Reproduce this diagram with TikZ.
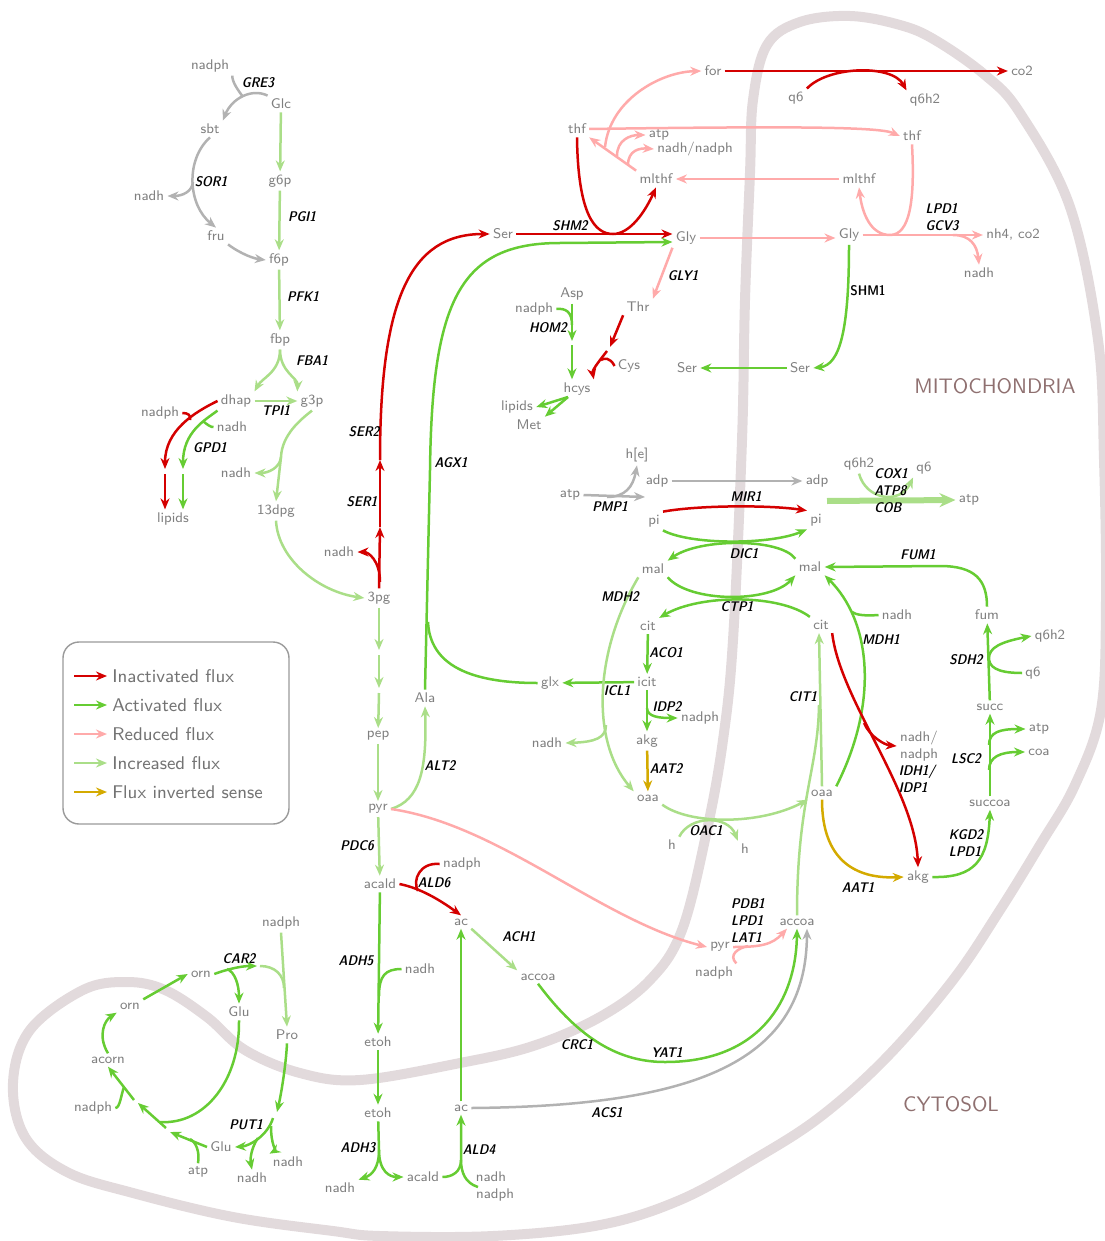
\documentclass[tikz,border=0pt]{standalone}
\usepackage{fontspec}
\usetikzlibrary{arrows.meta}

\definecolor{fluxoff}{RGB}{212,0,0}
\definecolor{fluxon}{RGB}{102,204,51}
\definecolor{fluxlow}{RGB}{255,170,170}
\definecolor{fluxhigh}{RGB}{170,222,136}
\definecolor{fluxrev}{RGB}{212,170,0}
\definecolor{fluxnone}{RGB}{178,178,178}
\definecolor{metgray}{RGB}{128,128,128}
\definecolor{wallcol}{RGB}{226,218,220}
\definecolor{compcol}{RGB}{143,112,112}

\begin{document}
\begin{tikzpicture}[x=0.5pt,y=-0.5pt,
    flux/.style={line width=1.25pt,-{Stealth[length=5.5pt,width=4.5pt]}},
    inactiv/.style={flux,draw=fluxoff},
    activ/.style={flux,draw=fluxon},
    reduc/.style={flux,draw=fluxlow},
    incr/.style={flux,draw=fluxhigh},
    inver/.style={flux,draw=fluxrev},
    neutr/.style={flux,draw=fluxnone},
    met/.style={text=metgray,font=\fontsize{7}{8.5}\selectfont\sffamily,inner sep=1.5pt},
    enz/.style={font=\fontsize{7}{8.5}\selectfont\sffamily\fontseries{sbc}\slshape,align=left,inner sep=0pt},
    legtext/.style={text=metgray!90!black,font=\fontsize{9.2}{10}\selectfont\sffamily,anchor=west,inner sep=0pt},
    comp/.style={text=compcol,font=\fontsize{10.5}{12}\selectfont\sffamily}]
  \useasboundingbox (0,0) rectangle (1104,1241);
  % compartment wall
  \draw[wallcol,line width=5pt] plot[smooth cycle,tension=0.6] coordinates {
    (850,16) (900,25) (935,40) (985,75) (1020,113) (1070,207) (1098,340)
    (1104,460) (1106,600) (1101,710) (1075,785) (1040,845) (1000,910)
    (953,980) (887,1057) (820,1117) (753,1160) (680,1200) (600,1225)
    (493,1236) (380,1236) (333,1231) (233,1217) (133,1193) (67,1172)
    (25,1137) (13,1083) (30,1030) (83,990) (127,982) (165,990) (207,1017)
    (245,1050) (300,1073) (360,1080) (460,1063) (533,1046) (600,1017)
    (650,980) (682,930) (707,830) (723,740) (733,640) (742,440) (745,300)
    (750,173) (753,100) (767,45) (800,22)};
  \node[comp] (lMito) at (995,386) {MITOCHONDRIA};
  \node[comp] (lCyto) at (951,1104) {CYTOSOL};

  % glycolysis and fermentation
  \node[met] (nadphG) at (210,66) {nadph};
  \node[met] (glc) at (281,104) {Glc};
  \node[met] (sbt) at (210,129) {sbt};
  \node[met] (g6p) at (280,181) {g6p};
  \node[met] (nadhS) at (149,196) {nadh};
  \node[met] (fru) at (216,236) {fru};
  \node[met] (f6p) at (279,260) {f6p};
  \node[met] (fbp) at (280,340) {fbp};
  \node[met] (dhap) at (236,401) {dhap};
  \node[met] (g3p) at (312,401) {g3p};
  \node[met] (nadphL) at (160,413) {nadph};
  \node[met] (nadhL) at (232,427) {nadh};
  \node[met] (nadhT) at (236,473) {nadh};
  \node[met] (dpg) at (276,511) {13dpg};
  \node[met] (lipG) at (173,519) {lipids};
  \node[met] (nadhP) at (339,552) {nadh};
  \node[met] (pg3) at (379,598) {3pg};
  \node[met] (pep) at (378,736) {pep};
  \node[met] (ala) at (425,698) {Ala};
  \node[met] (pyr) at (378,809) {pyr};
  \node[met] (acald) at (380,884) {acald};
  \node[met] (nadphA) at (462,864) {nadph};
  \node[met] (ac) at (461,922) {ac};
  \node[met] (accoa) at (538,977) {accoa};
  \node[met] (nadhE) at (420,969) {nadh};
  \node[met] (etoh) at (378,1042) {etoh};
  \node[met] (etohB) at (378,1113) {etoh};
  \node[met] (acB) at (461,1108) {ac};
  \node[met] (nadhH) at (340,1188) {nadh};
  \node[met] (acaldB) at (423,1177) {acald};
  \node[met] (nadhD) at (491,1177) {nadh};
  \node[met] (nadphD) at (495,1195) {nadph};

  % serine, glycine, one-carbon
  \node[met] (ser) at (503,234) {Ser};
  \node[met] (gly) at (686,238) {Gly};
  \node[met] (for) at (713,71) {for};
  \node[met] (co2) at (1022,71) {co2};
  \node[met] (q6F) at (796,98) {q6};
  \node[met] (q6h2F) at (925,100) {q6h2};
  \node[met] (thf) at (577,129) {thf};
  \node[met] (atpF) at (659,135) {atp};
  \node[met] (nadhF) at (695,149) {nadh/nadph};
  \node[met] (thfM) at (912,136) {thf};
  \node[met] (mlthf) at (656,179) {mlthf};
  \node[met] (mlthfM) at (859,179) {mlthf};
  \node[met] (glyM) at (849,235) {Gly};
  \node[met] (nh4) at (1013,235) {nh4, co2};
  \node[met] (nadhG) at (979,273) {nadh};
  \node[met] (asp) at (572,294) {Asp};
  \node[met] (nadphH) at (534,309) {nadph};
  \node[met] (thr) at (638,307) {Thr};
  \node[met] (cys) at (629,366) {Cys};
  \node[met] (serB) at (687,368) {Ser};
  \node[met] (serM) at (800,368) {Ser};
  \node[met] (hcys) at (577,389) {hcys};
  \node[met] (lipH) at (517,407) {lipids};
  \node[met] (methio) at (529,425) {Met};

  % energy and TCA
  \node[met] (hE) at (637,455) {h[e]};
  \node[met] (adp) at (657,481) {adp};
  \node[met] (adpM) at (817,481) {adp};
  \node[met] (atpP) at (570,495) {atp};
  \node[met] (q6h2E) at (859,464) {q6h2};
  \node[met] (q6E) at (924,468) {q6};
  \node[met] (atpE) at (969,500) {atp};
  \node[met] (pi) at (654,521) {pi};
  \node[met] (piM) at (816,520) {pi};
  \node[met] (mal) at (653,569) {mal};
  \node[met] (malM) at (810,567) {mal};
  \node[met] (cit) at (648,626) {cit};
  \node[met] (citM) at (821,625) {cit};
  \node[met] (nadhM) at (897,615) {nadh};
  \node[met] (fum) at (987,615) {fum};
  \node[met] (q6h2S) at (1050,636) {q6h2};
  \node[met] (q6S) at (1033,673) {q6};
  \node[met] (glx) at (550,683) {glx};
  \node[met] (icit) at (647,682) {icit};
  \node[met] (succ) at (990,707) {succ};
  \node[met] (nadphI) at (700,718) {nadph};
  \node[met] (nadhC) at (547,743) {nadh};
  \node[met] (akg) at (647,741) {akg};
  \node[met] (atpS) at (1039,729) {atp};
  \node[met,align=left] (nadhI) at (919,746) {nadh/\\nadph};
  \node[met] (coa) at (1039,752) {coa};
  \node[met] (oaa) at (648,798) {oaa};
  \node[met] (oaaM) at (822,793) {oaa};
  \node[met] (succoa) at (990,803) {succoa};
  \node[met] (hL) at (672,845) {h};
  \node[met] (hR) at (745,849) {h};
  \node[met] (akgM) at (918,877) {akg};
  \node[met] (pyrM) at (720,947) {pyr};
  \node[met] (nadphM) at (714,973) {nadph};
  \node[met] (accoaM) at (797,922) {accoa};

  % arginine and proline
  \node[met] (nadphR) at (281,923) {nadph};
  \node[met] (orn) at (201,974) {orn};
  \node[met] (ornA) at (130,1006) {orn};
  \node[met] (glu) at (239,1012) {Glu};
  \node[met] (pro) at (287,1035) {Pro};
  \node[met] (acorn) at (108,1060) {acorn};
  \node[met] (nadphC) at (93,1108) {nadph};
  \node[met] (gluB) at (221,1147) {Glu};
  \node[met] (atpR) at (198,1172) {atp};
  \node[met] (nadhR) at (252,1178) {nadh};
  \node[met] (nadhQ) at (288,1162) {nadh};

  % junctions and hidden intermediates
  \coordinate (jGRE) at (243,97);
  \coordinate (jSOR) at (193,182);
  \coordinate (jGPDr) at (190,420);
  \coordinate (jGPDg) at (203,421);
  \coordinate (gpR1) at (165,469);
  \coordinate (gpR2) at (165,474);
  \coordinate (gpG1) at (183,469);
  \coordinate (gpG2) at (183,474);
  \coordinate (jG3P) at (281,457);
  \coordinate (pgA) at (379,650);
  \coordinate (pgB) at (379,655);
  \coordinate (pgC) at (379,688);
  \coordinate (pgD) at (379,693);
  \coordinate (serA) at (380,527);
  \coordinate (serC) at (380,460);
  \coordinate (jSER) at (380,582);
  \coordinate (jSHM) at (613,234);
  \coordinate (jAGX) at (428,622);
  \coordinate (jALD) at (418,891);
  \coordinate (jADH) at (379,996);
  \coordinate (jADH3) at (379,1150);
  \coordinate (jALD4) at (461,1160);
  \coordinate (sALD4) at (478,1187);
  \coordinate (jPDB) at (748,946);
  \coordinate (jCIT) at (819,705);
  \coordinate (jMDH) at (852,612);
  \coordinate (jLSa) at (989,745);
  \coordinate (jLSb) at (989,770);
  \coordinate (jIDH) at (864,723);
  \coordinate (jIDP) at (647,708);
  \coordinate (jMDH2) at (606,725);
  \coordinate (pmpEnd) at (645,497);
  \coordinate (jPMP) at (607,497);
  \coordinate (etcS) at (827,501);
  \coordinate (jFor) at (605,147);
  \coordinate (jAtp) at (617,156);
  \coordinate (jNad) at (628,165);
  \coordinate (thrA) at (610,347);
  \coordinate (thrB) at (607,351);
  \coordinate (jCys) at (601,360);
  \coordinate (homA) at (572,341);
  \coordinate (homB) at (572,345);
  \coordinate (jHOM) at (572,325);
  \coordinate (hcysS) at (568,397);
  \coordinate (jGCV) at (890,235);
  \coordinate (jGCVn) at (953,235);
  \coordinate (jORN) at (227,969);
  \coordinate (carE) at (257,966);
  \coordinate (carS) at (260,966);
  \coordinate (jCAR) at (284,988);
  \coordinate (putA) at (277,1112);
  \coordinate (putB) at (273,1118);
  \coordinate (jPUTa) at (258,1138);
  \coordinate (jPUTb) at (271,1126);
  \coordinate (gaA) at (170,1132);
  \coordinate (gaB) at (166,1128);
  \coordinate (gaC) at (138,1103);
  \coordinate (gaD) at (134,1100);
  \coordinate (jAtpR) at (190,1139);
  \coordinate (jGlu) at (160,1122);
  \coordinate (jNadphR) at (124,1087);

  % GRE3, SOR1
  \draw[neutr] (glc.north west) .. controls (252,88) and (232,98) .. (sbt.north east);
  \draw[neutr,-] (nadphG.south east) .. controls (232,82) and (238,90) .. (jGRE);
  \draw[neutr] (sbt.south) .. controls (185,160) and (188,205) .. (fru.north);
  \draw[neutr] (jSOR) .. controls (192,192) and (182,196) .. (nadhS.east);
  \draw[neutr] (fru.south east) .. controls (235,250) and (250,258) .. (f6p.west);
  % upper glycolysis
  \draw[incr] (glc) -- (g6p);
  \draw[incr] (g6p) -- (f6p);
  \draw[incr] (f6p) -- (fbp);
  \draw[incr] (fbp.south) .. controls (280,372) and (262,378) .. (dhap.north east);
  \draw[incr] (fbp.south) .. controls (280,372) and (298,378) .. (g3p.north west);
  \draw[incr] (dhap) -- (g3p);
  % GPD1
  \draw[inactiv] (dhap.west) .. controls (195,412) and (165,430) .. (gpR1);
  \draw[inactiv] (gpR2) -- ([xshift=-4pt]lipG.north);
  \draw[inactiv,-] (nadphL.east) .. controls (188,413) and (191,415) .. (jGPDr);
  \draw[activ] (dhap.south west) .. controls (205,420) and (183,432) .. (gpG1);
  \draw[activ] (gpG2) -- ([xshift=5pt]lipG.north);
  \draw[activ,-] (nadhL.west) .. controls (212,428) and (206,424) .. (jGPDg);
  % lower glycolysis
  \draw[incr] (g3p.south) .. controls (300,420) and (282,435) .. (jG3P) -- (dpg.north);
  \draw[incr] (jG3P) .. controls (280,468) and (268,473) .. (nadhT.east);
  \draw[incr] (dpg.south) .. controls (278,560) and (320,592) .. (pg3.west);
  \draw[incr] (pg3) -- (pgA);
  \draw[incr] (pgB) -- (pgC);
  \draw[incr] (pgD) -- (pep);
  \draw[incr] (pep) -- (pyr);
  \draw[incr] (pyr) -- (acald);
  % serine
  \draw[inactiv] (pg3.north) -- (serA);
  \draw[inactiv] (serA) -- (serC);
  \draw[inactiv] (serC) .. controls (380,300) and (410,234) .. (ser.west);
  \draw[inactiv] (jSER) .. controls (380,560) and (368,552) .. (nadhP.east);
  \draw[inactiv] (ser.east) -- ([yshift=2pt]gly.west);
  \draw[inactiv] (thf.south) .. controls (578,215) and (595,234) .. (jSHM)
    .. controls (630,234) and (645,212) .. (mlthf.south);
  % AGX1, ALT2
  \draw[activ] (ala.north) -- (430,470) .. controls (432,300) and (460,243) .. (560,243)
    -- ([yshift=-2pt]gly.west);
  \draw[activ,-] (glx.west) .. controls (470,683) and (430,665) .. (jAGX);
  \draw[incr] (pyr.east) .. controls (420,800) and (427,770) .. (ala.south);
  \draw[reduc] (pyr.east) .. controls (500,825) and (600,920) .. (pyrM.west);
  % fermentation
  \draw[inactiv] (acald.east) .. controls (420,888) and (440,900) .. (ac.north);
  \draw[inactiv,-] (nadphA.west) .. controls (420,862) and (412,880) .. (jALD);
  \draw[incr] (ac.south east) -- (accoa.north west);
  \draw[activ] (accoa.south) .. controls (580,1040) and (620,1062) .. (665,1062)
    .. controls (760,1062) and (796,1000) .. (accoaM.south);
  \draw[activ] (acald) -- (etoh);
  \draw[activ,-] (nadhE.west) .. controls (385,969) and (379,976) .. (jADH);
  \draw[activ] (etoh) -- (etohB);
  \draw[activ,-] (etohB) -- (jADH3);
  \draw[activ] (jADH3) .. controls (379,1168) and (372,1175) .. (nadhH.north east);
  \draw[activ] (jADH3) .. controls (379,1172) and (390,1177) .. (acaldB.west);
  \draw[activ] (acaldB.east) .. controls (452,1177) and (461,1172) .. (jALD4) -- (acB.south);
  \draw[activ,-] (sALD4) .. controls (465,1183) and (461,1172) .. (jALD4);
  \draw[activ] (acB.north) -- (ac.south);
  \draw[neutr] (acB.east) .. controls (700,1106) and (806,1060) .. ([xshift=5pt]accoaM.south);
  \draw[reduc] (pyrM.east) .. controls (760,947) and (772,945) .. ([xshift=-5pt]accoaM.south);
  \draw[reduc,-] (nadphM.north east) .. controls (728,955) and (738,948) .. (jPDB);
  % TCA
  \draw[incr] (oaaM.north) -- ([xshift=-1pt]citM.south);
  \draw[incr,-] (accoaM.north) .. controls (797,800) and (818,770) .. (jCIT);
  \draw[activ] (oaaM.north east) .. controls (880,700) and (870,620) .. (malM.south east);
  \draw[activ,-] (nadhM.west) .. controls (865,616) and (856,615) .. (jMDH);
  \draw[activ] (fum.north) .. controls (987,580) and (975,566) .. (940,566) -- (malM.east);
  \draw[activ] (succ) -- (fum);
  \draw[activ] (q6S.west) .. controls (995,673) and (989,666) .. (989,658)
    .. controls (989,648) and (1000,642) .. (q6h2S.west);
  \draw[activ] (succoa) -- (succ);
  \draw[activ] (jLSa) .. controls (989,732) and (1000,729) .. (atpS.west);
  \draw[activ] (jLSb) .. controls (989,757) and (1000,752) .. (coa.west);
  \draw[activ] (akgM.east) .. controls (975,878) and (988,860) .. (succoa.south);
  \draw[inver] (oaaM.south) .. controls (822,860) and (855,879) .. (akgM.west);
  \draw[inactiv] (citM.south east) .. controls (840,700) and (915,790) .. (akgM.north);
  \draw[inactiv] (jIDH) .. controls (870,737) and (885,745) .. (nadhI.west);
  % carriers
  \draw[inactiv] (pi.north east) .. controls (700,505) and (770,505) .. (piM.north west);
  \draw[activ] (pi.south east) .. controls (690,545) and (770,545) .. (piM.south west);
  \draw[activ] (malM.north west) .. controls (780,538) and (700,538) .. (mal.north east);
  \draw[activ] (mal.south east) .. controls (690,603) and (770,603) .. (malM.south west);
  \draw[activ] (citM.north west) .. controls (780,594) and (700,594) .. (cit.north east);
  % cytosolic TCA side
  \draw[activ] (cit) -- (icit);
  \draw[activ] (icit) -- (glx);
  \draw[activ] (icit) -- (akg);
  \draw[activ] (jIDP) .. controls (647,717) and (660,718) .. (nadphI.west);
  \draw[inver] (akg) -- (oaa);
  \draw[incr] (mal.south west) .. controls (595,650) and (590,740) .. (oaa.north west);
  \draw[incr] (jMDH2) .. controls (606,738) and (595,742) .. (nadhC.east);
  \draw[incr] (oaa.south east) .. controls (690,825) and (760,825) .. (oaaM.south west);
  \draw[incr] (hL.north east) .. controls (690,815) and (728,815) .. (hR.north west);
  % energy
  \draw[neutr] (atpP.east) -- (pmpEnd);
  \draw[neutr] (jPMP) .. controls (625,497) and (633,487) .. (hE.south);
  \draw[neutr] (adp) -- (adpM);
  \draw[incr,line width=3pt,-{Stealth[length=8pt,width=7pt]}] (etcS) -- (atpE.west);
  \draw[incr] (q6h2E.south) .. controls (866,500) and (900,505) .. (q6E.south west);
  % one-carbon
  \draw[inactiv] (for) -- (co2);
  \draw[inactiv] (q6F.north east) .. controls (828,66) and (892,64) .. (q6h2F.north west);
  \draw[reduc] (mlthf.north west) -- (thf.south east);
  \draw[reduc] (jFor) .. controls (610,100) and (660,72) .. (for.west);
  \draw[reduc] (jAtp) .. controls (617,140) and (630,135) .. (atpF.west);
  \draw[reduc] (jNad) .. controls (628,150) and (640,148) .. (nadhF.west);
  \draw[reduc] (thf.east) .. controls (800,126) and (880,127) .. (thfM.west);
  \draw[reduc] (mlthfM) -- (mlthf);
  \draw[reduc] (gly.east) -- (gly.east -| glyM.west);
  \draw[reduc] (gly.south west) -- (thr.north east);
  \draw[inactiv] (thr.south west) -- (thrA);
  \draw[inactiv] (thrB) .. controls (600,360) and (592,370) .. (hcys.north east);
  \draw[inactiv,-] (cys.west) .. controls (610,357) and (604,358) .. (jCys);
  \draw[activ] (asp.south) -- (homA);
  \draw[activ] (homB) -- ([xshift=-2.5pt]hcys.north);
  \draw[activ,-] (nadphH.east) .. controls (566,308) and (572,312) .. (jHOM);
  \draw[activ] (hcysS) -- (lipH.east);
  \draw[activ] (hcysS) -- (methio.north east);
  \draw[activ] (glyM.south) .. controls (849,330) and (840,365) .. (serM.east);
  \draw[activ] (serM) -- (serB);
  \draw[reduc] (glyM.east) -- (nh4.west);
  \draw[reduc,-] (thfM.south) .. controls (915,200) and (910,235) .. (jGCV);
  \draw[reduc] (jGCV) .. controls (870,235) and (862,212) .. (mlthfM.south);
  \draw[reduc] (jGCVn) .. controls (970,235) and (977,245) .. (nadhG.north);
  % arginine, proline
  \draw[activ] (orn.east) .. controls (225,970) and (240,966) .. (carE);
  \draw[activ] (jORN) .. controls (235,972) and (239,985) .. (glu.north);
  \draw[incr,-] (carS) .. controls (275,966) and (284,975) .. (jCAR);
  \draw[incr] (nadphR.south) -- (pro.north);
  \draw[activ] (pro.south) .. controls (286,1065) and (281,1095) .. (putA);
  \draw[activ] (putB) .. controls (268,1135) and (250,1146) .. (gluB.east);
  \draw[activ] (jPUTa) .. controls (251,1148) and (250,1160) .. (nadhR.north);
  \draw[activ] (jPUTb) .. controls (271,1145) and (276,1150) .. (nadhQ.north west);
  \draw[activ] (gluB.west) -- (gaA);
  \draw[activ] (gaB) -- (gaC);
  \draw[activ] (gaD) -- (acorn.south);
  \draw[activ,-] (atpR.north) .. controls (200,1152) and (196,1142) .. (jAtpR);
  \draw[activ,-] (glu.south) .. controls (240,1080) and (205,1125) .. (jGlu);
  \draw[activ,-] (nadphC.east) .. controls (120,1108) and (121,1095) .. (jNadphR);
  \draw[activ] (acorn.north) .. controls (97,1035) and (105,1020) .. (ornA.south west);
  \draw[activ] (ornA.north east) -- (orn.west);

  % enzyme labels
  \node[enz] (eGRE3) at (258,83) {GRE3};
  \node[enz] (eSOR1) at (211,182) {SOR1};
  \node[enz] (ePGI1) at (302,217) {PGI1};
  \node[enz] (ePFK1) at (303,297) {PFK1};
  \node[enz] (eFBA1) at (312,361) {FBA1};
  \node[enz] (eTPI1) at (276,411) {TPI1};
  \node[enz] (eGPD1) at (210,448) {GPD1};
  \node[enz] (eSER2) at (364,432) {SER2};
  \node[enz] (eSER1) at (362,502) {SER1};
  \node[enz] (eSHM2) at (570,226) {SHM2};
  \node[enz] (eAGX1) at (451,463) {AGX1};
  \node[enz] (eALT2) at (440,766) {ALT2};
  \node[enz] (ePDC6) at (357,846) {PDC6};
  \node[enz] (eALD6) at (434,883) {ALD6};
  \node[enz] (eACH1) at (519,937) {ACH1};
  \node[enz] (eADH5) at (356,961) {ADH5};
  \node[enz] (eADH3) at (358,1148) {ADH3};
  \node[enz] (eALD4) at (479,1150) {ALD4};
  \node[enz] (eCRC1) at (577,1045) {CRC1};
  \node[enz] (eYAT1) at (667,1052) {YAT1};
  \node[enz] (eACS1) at (607,1113) {ACS1};
  \node[enz] (ePDB1) at (748,920) {PDB1\\LPD1\\LAT1};
  \node[enz] (eCAR2) at (239,959) {CAR2};
  \node[enz] (ePUT1) at (246,1125) {PUT1};
  \node[enz] (eGLY1) at (683,276) {GLY1};
  \node[enz] (eHOM2) at (548,328) {HOM2};
  \node[enz,font=\fontsize{7}{8.5}\selectfont\sffamily\fontseries{sbc}\upshape] (eSHM1) at (868,291) {SHM1};
  \node[enz] (eGCV3) at (942,217) {LPD1\\GCV3};
  \node[enz] (ePMP1) at (610,507) {PMP1};
  \node[enz] (eMIR1) at (746,497) {MIR1};
  \node[enz] (eDIC1) at (744,554) {DIC1};
  \node[enz] (eCTP1) at (737,607) {CTP1};
  \node[enz] (eMDH2) at (620,597) {MDH2};
  \node[enz] (eACO1) at (666,653) {ACO1};
  \node[enz] (eICL1) at (617,691) {ICL1};
  \node[enz] (eIDP2) at (667,707) {IDP2};
  \node[enz] (eAAT2) at (666,769) {AAT2};
  \node[enz] (eOAC1) at (706,831) {OAC1};
  \node[enz] (eCIT1) at (803,697) {CIT1};
  \node[enz] (eMDH1) at (881,640) {MDH1};
  \node[enz] (eFUM1) at (918,555) {FUM1};
  \node[enz] (eSDH2) at (966,660) {SDH2};
  \node[enz] (eLSC2) at (966,759) {LSC2};
  \node[enz] (eKGD2) at (966,843) {KGD2\\LPD1};
  \node[enz] (eIDH1) at (917,779) {IDH1/\\IDP1};
  \node[enz] (eAAT1) at (858,887) {AAT1};
  \node[enz] (eCOX1) at (891,491) {COX1\\ATP8\\COB};

  % legend
  \draw[metgray!80,line width=0.7pt,rounded corners=8pt] (63,642) rectangle (289,824);
  \node[legtext] (lInact) at (112,676) {Inactivated flux};
  \node[legtext] (lAct) at (112,705) {Activated flux};
  \node[legtext] (lRed) at (112,734) {Reduced flux};
  \node[legtext] (lInc) at (112,763) {Increased flux};
  \node[legtext] (lInv) at (112,792) {Flux inverted sense};
  \draw[inactiv] ([xshift=-19pt]lInact.west) -- ([xshift=-2.5pt]lInact.west);
  \draw[activ] ([xshift=-19pt]lAct.west) -- ([xshift=-2.5pt]lAct.west);
  \draw[reduc] ([xshift=-19pt]lRed.west) -- ([xshift=-2.5pt]lRed.west);
  \draw[incr] ([xshift=-19pt]lInc.west) -- ([xshift=-2.5pt]lInc.west);
  \draw[inver] ([xshift=-19pt]lInv.west) -- ([xshift=-2.5pt]lInv.west);
\end{tikzpicture}
\end{document}
